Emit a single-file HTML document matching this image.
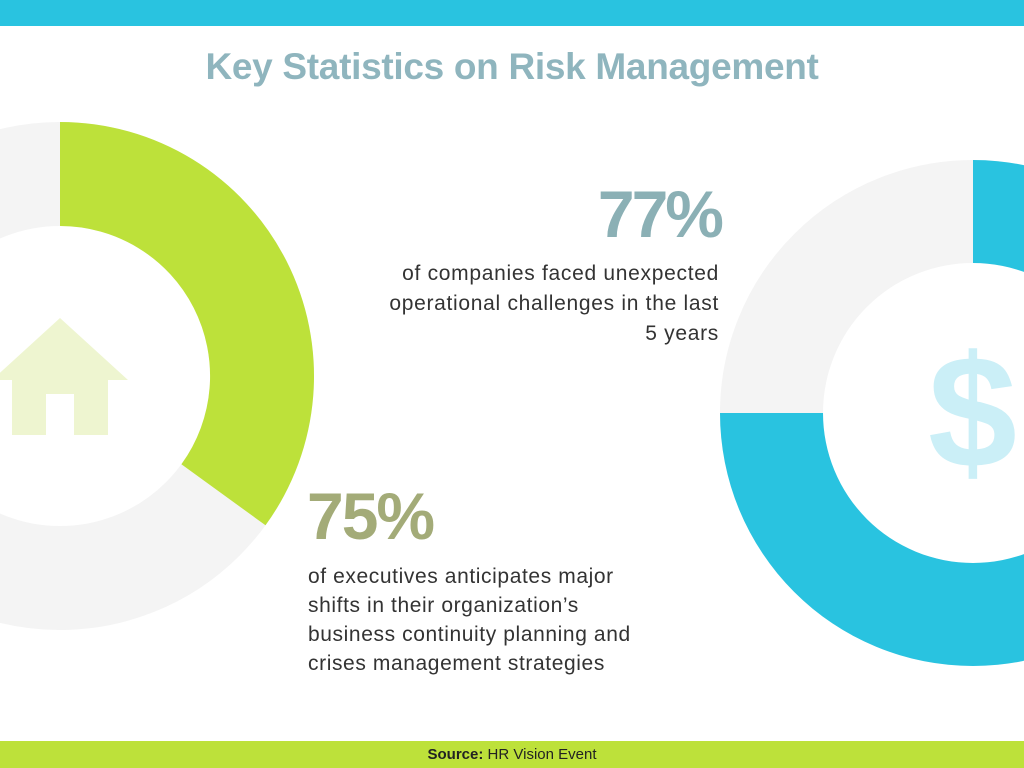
<!DOCTYPE html>
<html><head><meta charset="utf-8"><style>
body{margin:0;width:1024px;height:768px;overflow:hidden;background:#fff;font-family:"Liberation Sans","DejaVu Sans",sans-serif;position:relative}
.t{position:absolute;white-space:nowrap}
</style></head><body>
<svg width="1024" height="768" style="position:absolute;left:0;top:0">
<rect x="0" y="0" width="1024" height="26" fill="#29C3E0"/>
<rect x="0" y="741" width="1024" height="27" fill="#BDE13A"/>
<circle cx="60" cy="376" r="202" fill="none" stroke="#F4F4F4" stroke-width="104"/>
<path d="M60 122 A254 254 0 0 1 265.5 525.3 L181.4 464.2 A150 150 0 0 0 60 226 Z" fill="#BDE13A"/>
<circle cx="973" cy="413" r="201.5" fill="none" stroke="#F4F4F4" stroke-width="103"/>
<path d="M973 160 A253 253 0 1 1 720 413 L823 413 A150 150 0 1 0 973 263 Z" fill="#29C3E0"/>
<polygon points="60,318 128,380 -8,380" fill="#EEF5D0"/>
<rect x="12" y="379" width="96" height="56" fill="#EEF5D0"/>
<rect x="46" y="394" width="28" height="41" fill="#fff"/>
</svg>
<div class="t" style="left:0;width:1024px;text-align:center;top:46px;font-size:37px;font-weight:bold;color:#8FB5BE;letter-spacing:-0.3px">Key Statistics on Risk Management</div>
<div class="t" style="left:928px;top:332px;font-size:160px;font-weight:bold;color:#CBEFF7;line-height:1">$</div>
<div class="t" style="right:303px;top:178px;font-size:66px;font-weight:bold;color:#8BB0B5;line-height:1.1;letter-spacing:-3px">77%</div>
<div class="t" style="right:305px;top:259px;font-size:21px;letter-spacing:0.7px;color:#333;text-align:right;line-height:30px">of companies faced unexpected<br>operational challenges in the last<br>5 years</div>
<div class="t" style="left:307px;top:480px;font-size:66px;font-weight:bold;color:#A3AB78;line-height:1.1;letter-spacing:-2px">75%</div>
<div class="t" style="left:308px;top:562px;font-size:21px;letter-spacing:0.6px;color:#333;line-height:29px">of executives anticipates major<br>shifts in their organization’s<br>business continuity planning and<br>crises management strategies</div>
<div class="t" style="left:0;width:1024px;text-align:center;top:746px;font-size:15px;color:#222"><b>Source:</b> HR Vision Event</div>
</body></html>
